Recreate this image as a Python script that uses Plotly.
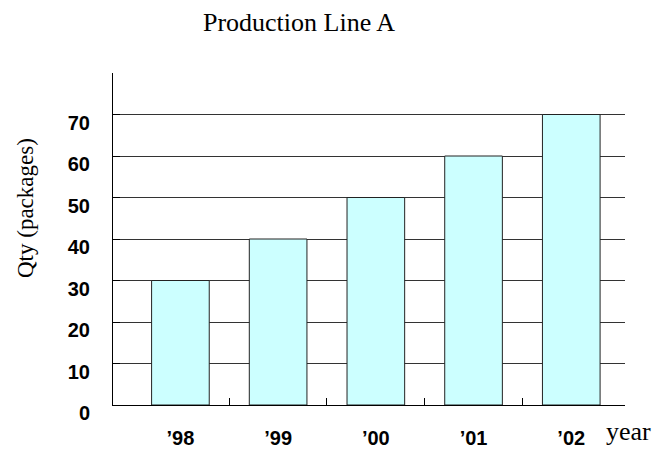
import plotly.graph_objects as go

# Yearly output of production line A
years = ["’98", "’99", "’00", "’01", "’02"]
quantity = [30, 40, 50, 60, 70]
y_ticks = [0, 10, 20, 30, 40, 50, 60, 70]
x_boundaries = [0.5, 1.5, 2.5, 3.5]

x_range = [-0.69, 4.55]

fig = go.Figure()
fig.add_trace(go.Bar(
    x=years,
    y=quantity,
    marker=dict(color="#CCFFFF", line=dict(color="#222222", width=1)),
    showlegend=False,
    hoverinfo="skip",
))
# helper trace so the boundary-tick axis is rendered
fig.add_trace(go.Scatter(
    x=x_boundaries, y=[None] * len(x_boundaries), xaxis="x2", yaxis="y",
    mode="markers", showlegend=False, hoverinfo="skip",
))

bold = dict(family="Liberation Sans, Arial, sans-serif", size=20, color="black", weight="bold")
serif = "Liberation Serif, Times New Roman, serif"

fig.update_layout(
    width=661, height=450,
    margin=dict(l=113, r=36, t=73, b=45),
    paper_bgcolor="white", plot_bgcolor="white",
    bargap=0.41,
    title=dict(text="Production Line A", x=299 / 661, xanchor="center",
               y=1 - 22 / 450, yanchor="middle", xref="container", yref="container",
               font=dict(family=serif, size=26, color="black")),
    xaxis=dict(
        type="category", range=x_range, automargin=False,
        showline=True, linecolor="black", linewidth=1,
        ticks="", showgrid=False,
        tickfont=bold, ticklabelstandoff=15,
    ),
    xaxis2=dict(
        type="linear", range=x_range, overlaying="x", anchor="y",
        tickvals=x_boundaries, ticks="inside", ticklen=7, tickcolor="black",
        tickwidth=1, showticklabels=False, showgrid=False, showline=False,
        zeroline=False, automargin=False,
    ),
    yaxis=dict(
        range=[0, 80], tickvals=y_ticks, automargin=False,
        showline=True, linecolor="black", linewidth=1,
        ticks="inside", ticklen=7, tickcolor="black",
        showgrid=True, gridcolor="#333333", gridwidth=1,
        zeroline=False,
        tickfont=bold, ticklabelshift=8, ticklabelstandoff=18,
    ),
    annotations=[
        dict(text="Qty (packages)", textangle=-90, xref="paper", yref="paper",
             x=(26 - 113) / 512, y=(405 - 208) / 332, xanchor="center", yanchor="middle",
             showarrow=False, font=dict(family=serif, size=23, color="black")),
        dict(text="year", xref="paper", yref="paper",
             x=(604 - 113) / 512, y=(405 - 432) / 332, xanchor="left", yanchor="middle",
             showarrow=False, font=dict(family=serif, size=26, color="black")),
    ],
)

fig.write_html("out.html")
